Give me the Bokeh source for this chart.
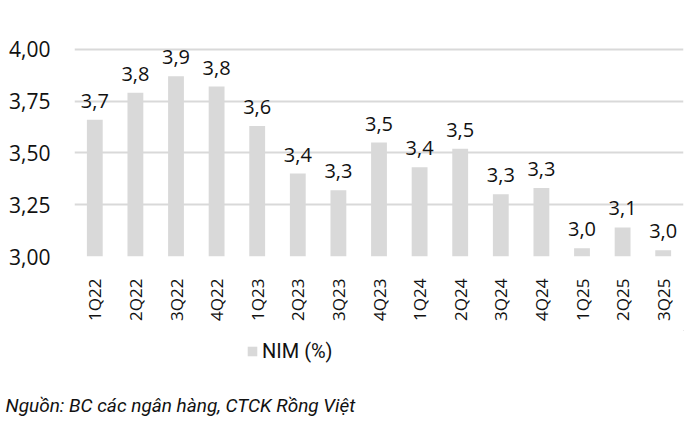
import math
from bokeh.plotting import figure
from bokeh.layouts import column
from bokeh.models import ColumnDataSource, Range1d, FixedTicker, Legend, LegendItem, Title
from bokeh.core.properties import value
from bokeh.embed import file_html
from bokeh.resources import INLINE

# Dữ liệu NIM theo quý
quy = ["1Q22", "2Q22", "3Q22", "4Q22", "1Q23", "2Q23", "3Q23", "4Q23",
       "1Q24", "2Q24", "3Q24", "4Q24", "1Q25", "2Q25", "3Q25"]
nim = [3.66, 3.79, 3.87, 3.82, 3.63, 3.40, 3.32, 3.55,
       3.43, 3.52, 3.30, 3.33, 3.04, 3.14, 3.03]
y_ticks = [3.0, 3.25, 3.5, 3.75, 4.0]
ten_chuoi = "NIM (%)"
nguon = "Nguồn: BC các ngân hàng, CTCK Rồng Việt"

nhan = [f"{v:.1f}".replace(".", ",") for v in nim]
source = ColumnDataSource(data={"quy": quy, "nim": nim, "nhan": nhan})

FONT = "Open Sans"
NARROW = "Roboto"
GREY = "#d9d9d9"

p = figure(
    x_range=quy,
    y_range=Range1d(3.0, 4.1),
    width=696,
    height=330,
    output_backend="svg",
    toolbar_location=None,
    min_border_left=74,
    min_border_right=13,
    min_border_top=28,
    min_border_bottom=74,
)
p.outline_line_color = None

p.vbar(x="quy", top="nim", bottom=3.0, width=0.39, source=source,
       fill_color=GREY, line_color=None)

p.text(x="quy", y="nim", text="nhan", source=source,
       text_align="center", text_baseline="alphabetic", y_offset=-19,
       text_font=value(FONT), text_font_size="20px", text_color="#111111")

# trục y
p.yaxis.ticker = FixedTicker(ticks=y_ticks)
p.yaxis.major_label_overrides = {t: f"{t:.2f}".replace(".", ",") for t in y_ticks}
p.yaxis.axis_line_color = None
p.yaxis.major_tick_line_color = None
p.yaxis.minor_tick_line_color = None
p.yaxis.major_label_standoff = 18
p.yaxis.major_label_text_font = FONT
p.yaxis.major_label_text_font_size = "21px"
p.yaxis.major_label_text_color = "#111111"

# trục x
p.xaxis.axis_line_color = None
p.xaxis.major_tick_line_color = None
p.xaxis.major_label_orientation = math.pi / 2
p.xaxis.major_label_standoff = 16
p.xaxis.major_label_text_font = FONT
p.xaxis.major_label_text_font_size = "17px"
p.xaxis.major_label_text_color = "#111111"

p.xgrid.grid_line_color = None
p.ygrid.grid_line_color = GREY
p.ygrid.grid_line_width = 2

# phần chú giải + nguồn (khung căn theo khung của p)
q = figure(width=696, height=101, x_range=Range1d(0, 1), y_range=Range1d(0, 1),
           x_axis_type=None, y_axis_type=None, output_backend="svg",
           toolbar_location=None, min_border_left=0, min_border_right=0,
           min_border_top=0, min_border_bottom=40)
q.outline_line_color = None
q.xgrid.grid_line_color = None
q.ygrid.grid_line_color = None
# glyph đại diện cho chú giải (nằm ngoài khung, không hiện)
proxy = q.vbar(x="nim", top="nim", bottom=3.0, width=0.5, source=source,
               fill_color=GREY, line_color=None)

legend = Legend(items=[LegendItem(label=ten_chuoi, renderers=[proxy])],
                location=(172, 28), orientation="horizontal",
                padding=0, margin=0, border_line_color=None,
                background_fill_alpha=0,
                glyph_width=12, glyph_height=12, label_standoff=4,
                label_text_font=NARROW, label_text_font_size="20px",
                label_text_color="#111111")
q.add_layout(legend)

q.add_layout(Title(text=nguon, align="left", offset=-69, standoff=0,
                   text_font=NARROW, text_font_style="italic",
                   text_font_size="19px", text_color="#111111"), "below")

open("out.html", "w").write(file_html(column(p, q), INLINE))
